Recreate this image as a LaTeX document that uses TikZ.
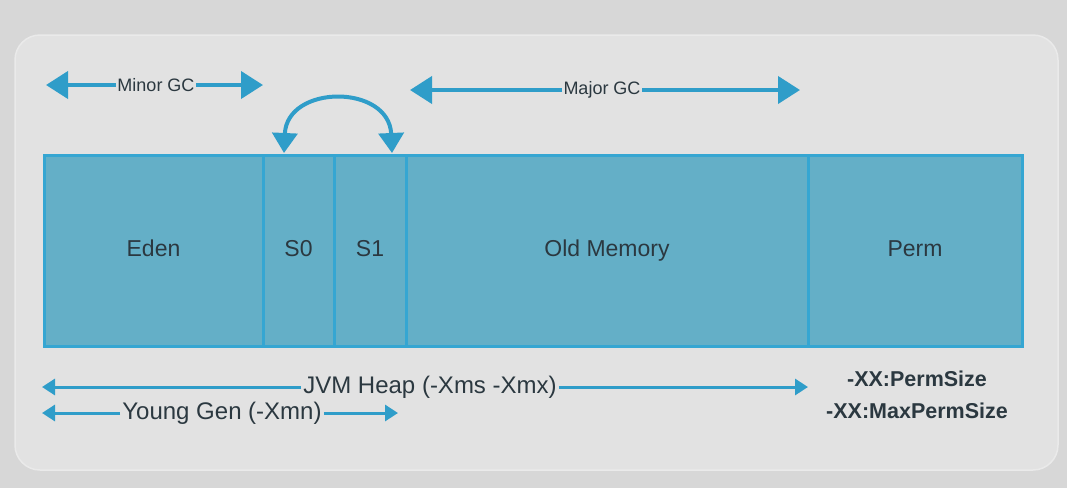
\documentclass[tikz,border=0pt]{standalone}
\usepackage{fontspec}
\setmainfont{Liberation Sans}
\usetikzlibrary{arrows.meta}
\definecolor{bgc}{HTML}{D7D7D7}
\definecolor{panel}{HTML}{E2E2E2}
\definecolor{panedge}{HTML}{EAEAEA}
\definecolor{boxfill}{HTML}{64AFC7}
\definecolor{boxline}{HTML}{35A6D2}
\definecolor{arr}{HTML}{2F9DC9}
\definecolor{txt}{HTML}{2B3840}
\tikzset{
  cell/.style={draw=boxline, line width=3pt, fill=boxfill, inner sep=0pt,
    minimum height=191pt, text height=16pt, text depth=5pt, text=txt,
    font=\fontsize{23}{26}\selectfont},
  gclabel/.style={inner sep=1.5pt, text=txt, font=\fontsize{18}{20}\selectfont},
  heaplabel/.style={inner sep=2pt, text=txt, font=\fontsize{24}{27}\selectfont},
  permlabel/.style={inner sep=0pt, text=txt, font=\bfseries\fontsize{21.5}{24}\selectfont},
  bigarrow/.style={draw=arr, line width=4pt, -{Triangle[length=22pt,width=27pt]}},
  smallarrow/.style={draw=arr, line width=3pt, -{Triangle[length=13pt,width=16pt]}},
}
\begin{document}
\begin{tikzpicture}[x=1pt,y=-1pt]
\fill[bgc] (0,0) rectangle (1067,488);
\useasboundingbox (0,0) rectangle (1067,488);
\draw[panedge, line width=1.5pt, fill=panel, rounded corners=25pt] (15,35) rectangle (1058,470);

% memory compartments
\node[cell, minimum width=219pt] (eden) at (153.5,250.5) {Eden};
\node[cell, minimum width=71pt] (s0) at (298.5,250.5) {S0};
\node[cell, minimum width=72pt] (s1) at (370,250.5) {S1};
\node[cell, minimum width=402pt] (old) at (607,250.5) {Old Memory};
\node[cell, minimum width=214pt] (perm) at (915,250.5) {Perm};

% Minor GC
\node[gclabel] (minor) at (156,85) {Minor GC};
\coordinate (minorL) at (46,85);
\coordinate (minorR) at (263,85);
\draw[bigarrow] (minor.west) -- (minorL);
\draw[bigarrow] (minor.east) -- (minorR);

% Major GC
\node[gclabel] (major) at (602,90) {Major GC};
\coordinate (majorL) at (410,90);
\coordinate (majorR) at (800,90);
\draw[bigarrow] (major.west) -- (majorL);
\draw[bigarrow] (major.east) -- (majorR);

% survivor swap
\coordinate (swapL) at (284,153);
\coordinate (swapR) at (392,153);
\draw[draw=arr, line width=4pt, {Triangle[length=20pt,width=25pt]}-{Triangle[length=20pt,width=25pt]}]
  (swapL) .. controls (287,84) and (389,84) .. (swapR);

% JVM heap
\node[heaplabel] (heap) at (430,387) {JVM Heap (-Xms -Xmx)};
\coordinate (heapL) at (42,387);
\coordinate (heapR) at (808,387);
\draw[smallarrow] (heap.west) -- (heapL);
\draw[smallarrow] (heap.east) -- (heapR);

% Young gen
\node[heaplabel] (young) at (222,413) {Young Gen (-Xmn)};
\coordinate (youngL) at (42,413);
\coordinate (youngR) at (398,413);
\draw[smallarrow] (young.west) -- (youngL);
\draw[smallarrow] (young.east) -- (youngR);

% Perm options
\node[permlabel] (permsize) at (917,379) {-XX:PermSize};
\node[permlabel] (maxperm) at (917,411) {-XX:MaxPermSize};
\end{tikzpicture}
\end{document}
